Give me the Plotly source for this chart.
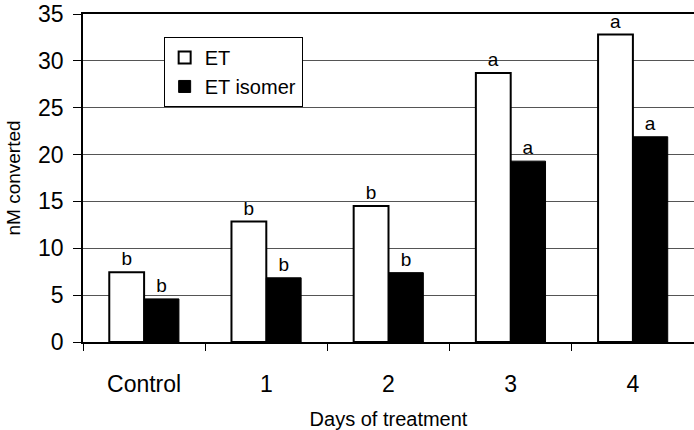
import plotly.graph_objects as go

categories = ["Control", "1", "2", "3", "4"]
et_values = [7.45, 12.85, 14.5, 28.7, 32.8]
isomer_values = [4.6, 6.85, 7.4, 19.3, 21.9]
et_letters = ["b", "b", "b", "a", "a"]
isomer_letters = ["b", "b", "b", "a", "a"]
y_ticks = [0, 5, 10, 15, 20, 25, 30, 35]

FONT = "Arial, Liberation Sans, sans-serif"

fig = go.Figure()
fig.add_trace(go.Bar(
    name="ET", x=categories, y=et_values,
    marker=dict(color="white", line=dict(color="black", width=2)),
    text=et_letters, textposition="outside",
    textfont=dict(size=19, color="black", family=FONT),
    cliponaxis=False,
))
fig.add_trace(go.Bar(
    name="ET isomer", x=categories, y=isomer_values,
    marker=dict(color="black", line=dict(color="black", width=1)),
    text=isomer_letters, textposition="outside",
    textfont=dict(size=19, color="black", family=FONT),
    cliponaxis=False,
))

fig.update_layout(
    width=694, height=430,
    margin=dict(l=83, r=0, t=14, b=88),
    paper_bgcolor="white", plot_bgcolor="white",
    font=dict(family=FONT, color="black", size=20),
    barmode="group", bargap=0.43, bargroupgap=0,
    showlegend=True,
    legend=dict(
        x=0.132, y=0.93, xanchor="left", yanchor="top",
        bgcolor="white", bordercolor="black", borderwidth=1,
        font=dict(size=20, family=FONT, color="black"),
        tracegroupgap=0, itemwidth=30,
    ),
    xaxis=dict(
        automargin=False,
        showline=True, linecolor="black", linewidth=1.5, mirror=True,
        ticks="outside", tickson="boundaries", ticklen=7, tickcolor="black",
        tickfont=dict(size=23, family=FONT),
        ticklabelstandoff=21,
        title=dict(text="Days of treatment", font=dict(size=20, family=FONT), standoff=16),
        showgrid=False,
    ),
    yaxis=dict(
        automargin=False,
        range=[0, 35], tickvals=y_ticks,
        showline=True, linecolor="black", linewidth=1.5,
        ticks="outside", ticklen=8, tickcolor="black",
        tickfont=dict(size=23, family=FONT),
        ticklabelstandoff=5, ticklabeloverflow="allow",
        showgrid=True, gridcolor="#555555", gridwidth=1,
        zeroline=False,
        title=dict(text="nM converted", font=dict(size=19, family=FONT), standoff=12),
    ),
)

fig.write_html(
    "out.html",
    config={"displayModeBar": False},
    post_script="document.body.style.margin='0';document.body.style.overflow='hidden';",
)
